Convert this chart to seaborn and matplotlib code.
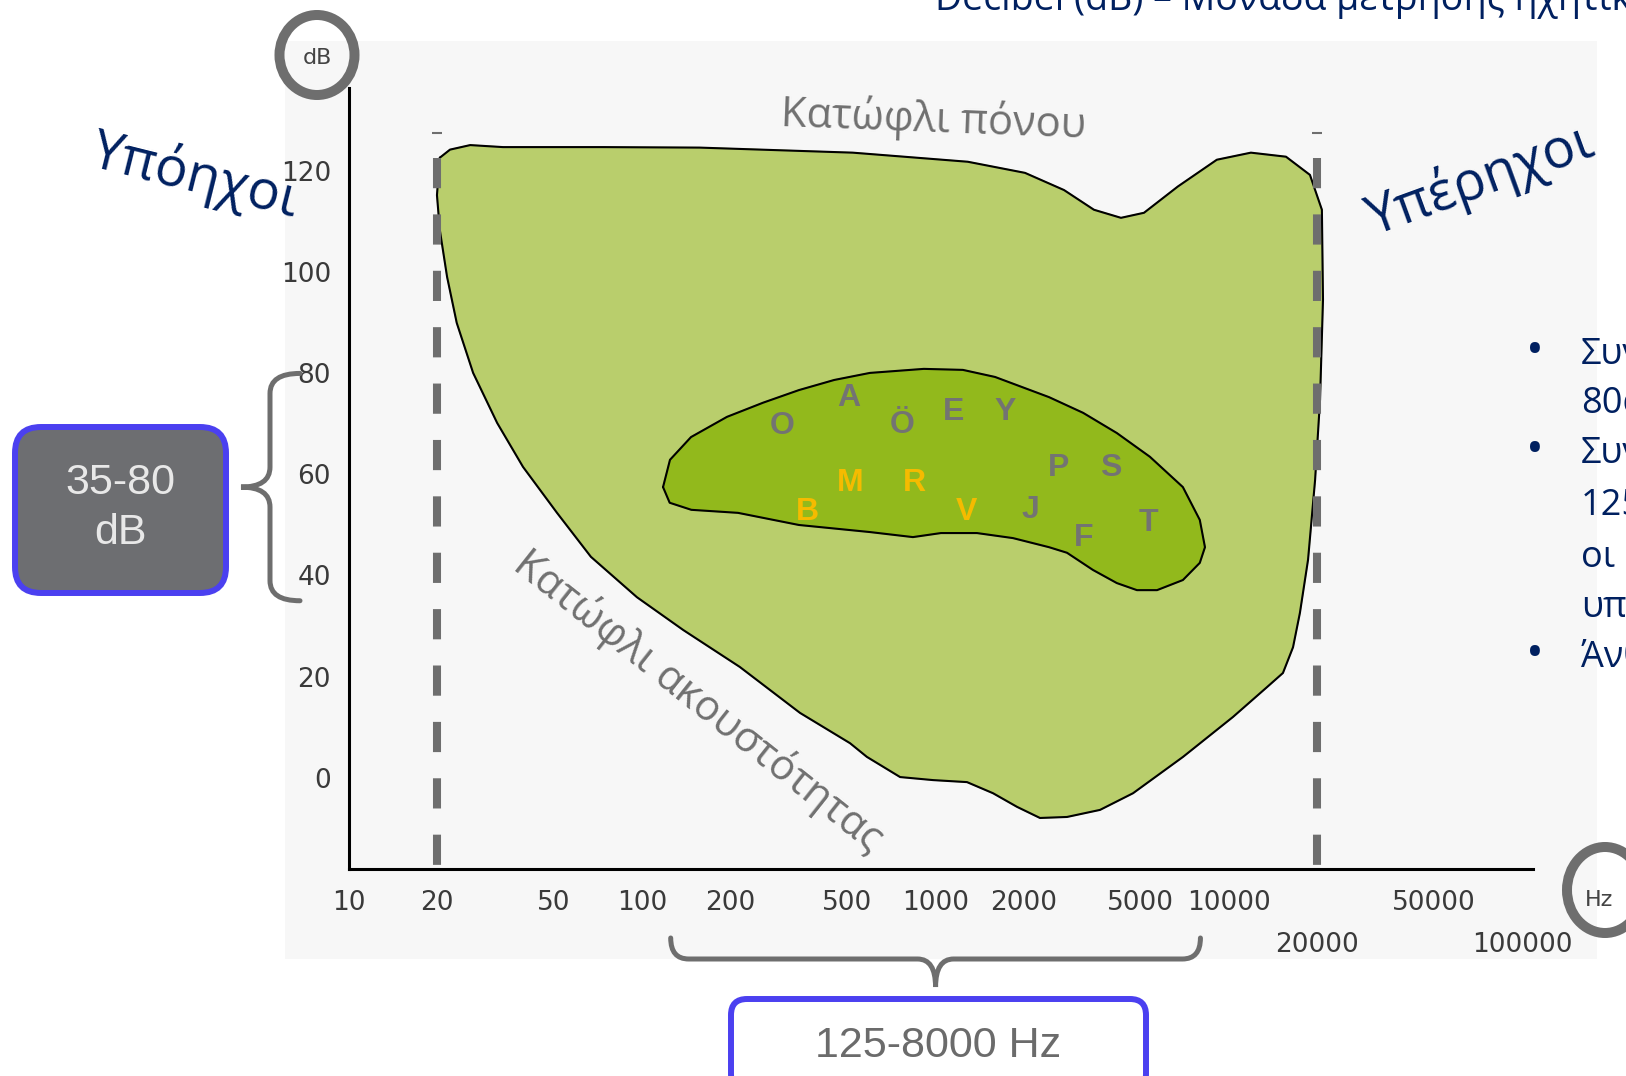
import numpy as np
import pandas as pd
import matplotlib.pyplot as plt
import seaborn as sns
from matplotlib.patches import Ellipse, FancyBboxPatch, PathPatch, Rectangle
from matplotlib.path import Path
from matplotlib.transforms import IdentityTransform

W, H = 1626, 1076

# audible area, traced clockwise from the top-left corner (Hz, dB)
outer_hz = [20.4, 22.1, 25.9, 33.5, 73.5, 157, 522, 1288, 2018, 2741, 3467, 4287,
            5137, 6700, 9100, 11890, 15660, 18900, 20760, 20940, 20460, 19680,
            18620, 17470, 16550, 15290, 13490, 10330, 6980, 4713, 3637, 2806,
            2270, 1896, 1570, 1280, 980, 757, 583, 511, 345, 215, 138, 95.9,
            66.8, 51.2, 39.2, 32.0, 26.5, 23.3, 21.6, 20.4, 19.95]
outer_db = [122.7, 124.3, 125.2, 124.8, 124.8, 124.7, 123.7, 121.9, 119.7, 116.3,
            112.4, 110.8, 111.8, 117.0, 122.3, 123.7, 122.9, 119.3, 112.4, 94.6,
            74.8, 58.9, 43.1, 32.6, 25.8, 20.7, 17.9, 12.0, 4.1, -3.1, -6.4, -7.8,
            -8.0, -5.8, -3.1, -0.9, -0.5, 0.1, 4.1, 6.8, 12.8, 21.9, 29.2, 35.7,
            43.7, 52.4, 61.5, 70.2, 80.1, 90.0, 99.1, 108.4, 115.3]

# speech area
speech_hz = [117.7, 124.3, 146.6, 194.4, 258, 342, 451, 597, 912, 1239, 1595, 2438,
             3184, 4150, 5380, 6970, 7960, 8290, 7960, 6970, 5690, 4860, 4150, 3440,
             2806, 2438, 1837, 1384, 1043, 837, 597, 342, 212, 147, 124]
speech_db = [57.5, 62.9, 67.4, 71.4, 74.2, 76.7, 78.7, 80.1, 80.9, 80.7, 79.3, 75.3,
             72.2, 68.2, 63.5, 57.5, 51.0, 45.6, 42.5, 39.1, 37.1, 37.1, 38.5, 41.1,
             44.5, 45.6, 47.4, 48.4, 48.4, 47.6, 48.6, 50.0, 52.4, 53.0, 54.4]

sounds = ["O", "A", "Ö", "E", "Y", "P", "S", "J", "F", "T"]
sounds_hz = [300, 505, 768, 1155, 1733, 2636, 3963, 2108, 3206, 5323]
sounds_db = [69.5, 75.1, 69.8, 72.4, 72.4, 61.3, 61.3, 53.0, 47.4, 50.4]

voiced = ["B", "M", "R", "V"]
voiced_hz = [366, 512, 848, 1274]
voiced_db = [52.6, 58.3, 58.3, 52.6]

x_ticks = [10, 20, 50, 100, 200, 500, 1000, 2000, 5000, 10000, 20000, 50000, 100000]
x_low = [20000, 100000]
y_major = [0, 20, 40, 60, 80, 100, 120]
y_minor = [10, 30, 50, 70, 90, 110, 130]

hearing_limits = [20, 20000]
speech_db_range = [35, 80]
speech_hz_range = [125, 8000]

navy = "#002060"
grey = "#6e6e6e"

sns.set_theme(style="white")
plt.rcParams["font.family"] = ["Open Sans", "DejaVu Sans"]

fig = plt.figure(figsize=(W / 100, H / 100), dpi=100)
ax = fig.add_axes([349 / W, 207 / H, 1184 / W, 781 / H])
ax.set_facecolor("none")
ax.set_xscale("log")
ax.set_xlim(10, 108900)
ax.set_ylim(-18.1, 136.5)

# shapes
ax.fill(outer_hz, outer_db, color="#b9ce6c", zorder=1)
ax.fill(speech_hz, speech_db, color="#92b91c", zorder=2)
outer = pd.DataFrame({"hz": outer_hz + outer_hz[:1], "db": outer_db + outer_db[:1]})
speech = pd.DataFrame({"hz": speech_hz + speech_hz[:1], "db": speech_db + speech_db[:1]})
sns.lineplot(data=outer, x="hz", y="db", sort=False, estimator=None,
             color="black", lw=1.5, ax=ax, zorder=3)
sns.lineplot(data=speech, x="hz", y="db", sort=False, estimator=None,
             color="black", lw=1.5, ax=ax, zorder=3)

# limits of hearing
for f in hearing_limits:
    ax.plot([f, f], [122.7, -18.1], color=grey, lw=5.8,
            linestyle=(0, (3.75, 3.25)), zorder=4, solid_capstyle="butt")
    ax.plot([f], [127.6], marker="_", ms=7, mew=1.5, color=grey, zorder=4)

for s, f, d in zip(sounds, sounds_hz, sounds_db):
    ax.text(f, d, s, ha="center", va="center", fontsize=23, fontweight="bold",
            color="#737373", family="Liberation Sans", zorder=5)
for s, f, d in zip(voiced, voiced_hz, voiced_db):
    ax.text(f, d, s, ha="center", va="center", fontsize=23, fontweight="bold",
            color="#f5bb00", family="Liberation Sans", zorder=5)

# axes
ax.set_xlabel("")
ax.set_ylabel("")
for side in ["top", "right"]:
    ax.spines[side].set_visible(False)
for side in ["left", "bottom"]:
    ax.spines[side].set_color("black")
    ax.spines[side].set_linewidth(2.2)

ax.xaxis.set_minor_locator(plt.NullLocator())
ax.set_xticks(x_ticks)
ax.set_xticklabels([str(v) for v in x_ticks])
ax.set_yticks(y_major)
ax.set_yticks(y_minor, minor=True)
ax.set_yticklabels([str(v) for v in y_major])
tick_font = "DejaVu Sans"
ax.tick_params(axis="x", direction="in", length=19, width=1.5, color="black",
               pad=15, labelsize=19, labelcolor="#3a3a3a")
ax.tick_params(axis="y", which="both", direction="in", length=18, width=2.2,
               color="black", pad=13, labelsize=19, labelcolor="#3a3a3a")
for lab in ax.get_xticklabels() + ax.get_yticklabels():
    lab.set_family(tick_font)
for v, tick in zip(x_ticks, ax.xaxis.get_major_ticks()):
    if v in (10, 20, 20000, 100000):
        tick.tick1line.set_visible(False)
    if v in x_low:
        tick.set_pad(45)

ident = IdentityTransform()


def px(x, y):
    return x, H - y


def brace(p0, p1, out, h1, h2, r):
    p0 = np.array(p0, float)
    p1 = np.array(p1, float)
    L = np.linalg.norm(p1 - p0)
    es = (p1 - p0) / L
    ew = np.array(out, float)
    loc = [(0, 0), (0, h1), (r, h1), (L / 2 - r, h1), (L / 2, h1), (L / 2, h2),
           (L / 2, h1), (L / 2 + r, h1), (L - r, h1), (L, h1), (L, 0)]
    codes = [Path.MOVETO, Path.CURVE3, Path.CURVE3, Path.LINETO, Path.CURVE3,
             Path.CURVE3, Path.CURVE3, Path.CURVE3, Path.LINETO, Path.CURVE3, Path.CURVE3]
    verts = [p0 + s * es + w * ew for s, w in loc]
    fig.add_artist(PathPatch(Path(verts, codes), fill=False, ec=grey, lw=3.6,
                             transform=ident, zorder=5, capstyle="round"))


# light panel behind the chart
fig.add_artist(Rectangle(px(285, 959), 1312, 918, fc="#f7f7f7", ec="none",
                         transform=ident, zorder=-1))

# braces tied to the data ranges
y_hi = ax.transData.transform((10, speech_db_range[1]))[1]
y_lo = ax.transData.transform((10, speech_db_range[0]))[1]
brace((300, y_hi), (300, y_lo), (-1, 0), 30, 59, 20)
x_lo = ax.transData.transform((speech_hz_range[0], 0))[0]
x_hi = ax.transData.transform((speech_hz_range[1], 0))[0]
brace((x_lo, H - 938), (x_hi, H - 938), (0, -1), 21, 49, 18)

# unit circles
fig.add_artist(Ellipse(px(317, 55), 75, 80, fill=False, ec=grey, lw=7.2,
                       transform=ident, zorder=5))
fig.add_artist(Ellipse(px(1605, 890), 76, 86, fill=False, ec=grey, lw=7.2,
                       transform=ident, zorder=5))
fig.text(317 / W, 1 - 58 / H, "dB", ha="center", va="center", fontsize=16,
         color="#444444", family=tick_font)
fig.text(1599 / W, 1 - 900 / H, "Hz", ha="center", va="center", fontsize=16,
         color="#444444", family=tick_font)

# range boxes
fig.add_artist(FancyBboxPatch(px(15, 593), 211, 166,
                              boxstyle="round,pad=0,rounding_size=26",
                              fc="#6d6e71", ec="#4b40f0", lw=4.3,
                              transform=ident, zorder=5))
fig.text(120 / W, 1 - 508 / H, "35-80\ndB", ha="center", va="center",
         fontsize=31, color="#e8e8e8", family="Liberation Sans",
         linespacing=1.35, zorder=6)
fig.add_artist(FancyBboxPatch(px(731, 1090), 415, 91,
                              boxstyle="round,pad=0,rounding_size=16",
                              fc="white", ec="#4b40f0", lw=4.3,
                              transform=ident, zorder=5))
fig.text(938 / W, 1 - 1046 / H, "125-8000 Hz", ha="center", va="center",
         fontsize=31, color="#6b6b6b", family="Liberation Sans", zorder=6)

# labels
fig.text(933 / W, 1 - 120 / H, "Κατώφλι πόνου", ha="center", va="center",
         fontsize=30, color="#707070", rotation=-2.2, rotation_mode="anchor")
fig.text(698 / W, 1 - 701 / H, "Κατώφλι ακουστότητας", ha="center", va="center",
         fontsize=30, color="#707070", rotation=-38.4, rotation_mode="anchor")
fig.text(195 / W, 1 - 176 / H, "Υπόηχοι", ha="center", va="center",
         fontsize=39, color=navy, rotation=-14, rotation_mode="anchor")
fig.text(1480 / W, 1 - 181 / H, "Υπέρηχοι", ha="center", va="center",
         fontsize=39, color=navy, rotation=20, rotation_mode="anchor")

fig.text(935 / W, 1 - 10 / H, "Decibel (dB) – Μονάδα μέτρησης ηχητικής",
         ha="left", va="baseline", fontsize=27, color=navy)

bullet_lines = ["Συν", "80d", "Συν", "125", "οι", "υπε", "Άνθ"]
bullet_y = [355, 404, 454, 506, 558, 608, 658]
bullet_on = [True, False, True, False, False, False, True]
for txt, yy, b in zip(bullet_lines, bullet_y, bullet_on):
    fig.text(1581 / W, 1 - yy / H, txt, ha="left", va="center", fontsize=26, color=navy)
    if b:
        fig.text(1535 / W, 1 - (yy - 3) / H, "•", ha="center", va="center",
                 fontsize=34, color=navy)

fig.savefig("out.png", dpi=100)
